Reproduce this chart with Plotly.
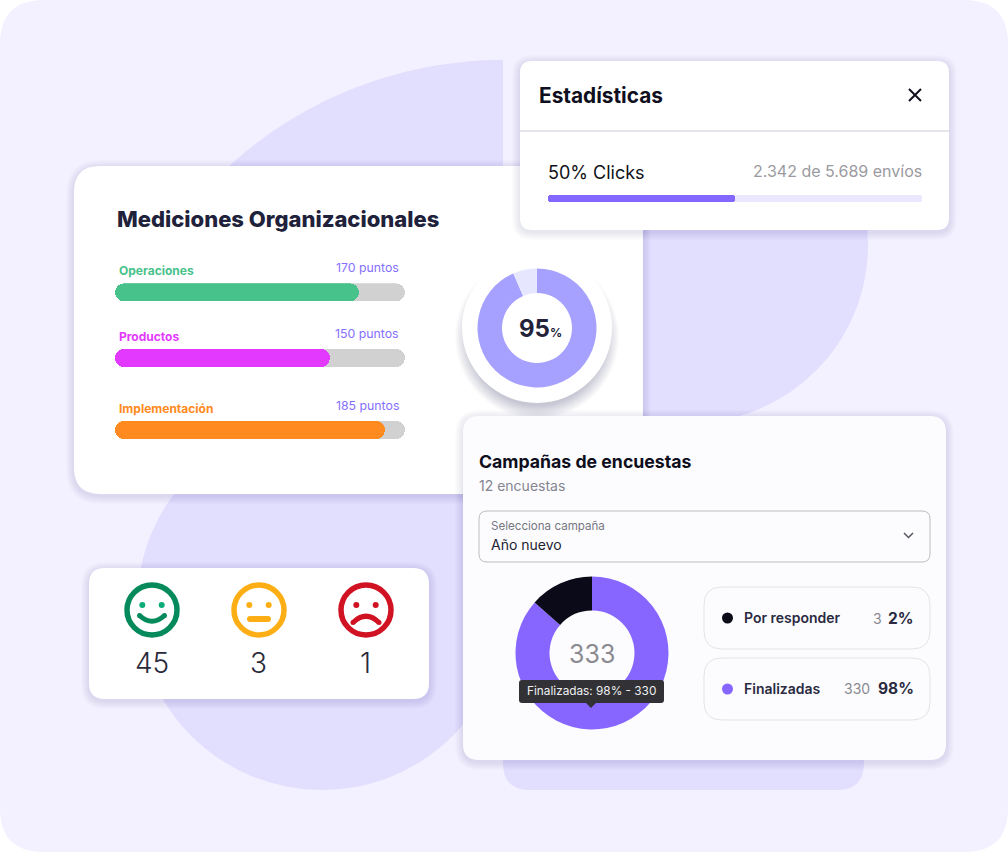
import math
import plotly.graph_objects as go

W, H = 1008, 852
FONT = "Inter"

# ---- data ----
bar_names = ["Operaciones", "Productos", "Implementación"]
bar_points = ["170 puntos", "150 puntos", "185 puntos"]
bar_fill = [84.1, 74.3, 93.1]
bar_track = [100, 100, 100]
bar_colors = ["#47c28a", "#e339ff", "#ff8a20"]

clicks_fill = [50]
clicks_track = [100]

gauge_labels = ["Logrado", "Restante"]
gauge_values = [93.5, 6.5]
gauge_colors = ["#a6a1ff", "#e6e6ff"]

survey_labels = ["Finalizadas", "Por responder"]
survey_values = [86.5, 13.5]
survey_colors = ["#8766ff", "#0a0a18"]
survey_counts = ["330", "3"]
survey_pcts = ["98%", "2%"]

face_counts = ["45", "3", "1"]
face_colors = ["#058a5c", "#fdae14", "#d01223"]
eye_colors = ["#0aaa7a", "#fdae14", "#d01223"]


# ---- pixel helpers (decorative layout only) ----
def fx(x): return x / W
def fy(y): return 1 - y / H
def pt(x, y): return f"{fx(x):.5f},{fy(y):.5f}"


def rr_path(x0, y0, x1, y1, r):
    return (f"M{pt(x0 + r, y0)} L{pt(x1 - r, y0)} Q{pt(x1, y0)} {pt(x1, y0 + r)} "
            f"L{pt(x1, y1 - r)} Q{pt(x1, y1)} {pt(x1 - r, y1)} L{pt(x0 + r, y1)} "
            f"Q{pt(x0, y1)} {pt(x0, y1 - r)} L{pt(x0, y0 + r)} Q{pt(x0, y0)} {pt(x0 + r, y0)} Z")


shapes = []


def add_rr(x0, y0, x1, y1, r, fill="rgba(0,0,0,0)", line=None, lw=1, layer="below"):
    shapes.append(dict(type="path", path=rr_path(x0, y0, x1, y1, r), xref="paper", yref="paper",
                       fillcolor=fill, line=dict(color=line or "rgba(0,0,0,0)", width=lw if line else 0),
                       layer=layer))


def add_circle(cx, cy, r, fill="rgba(0,0,0,0)", line=None, lw=0, layer="below"):
    shapes.append(dict(type="circle", xref="paper", yref="paper", x0=fx(cx - r), x1=fx(cx + r),
                       y0=fy(cy + r), y1=fy(cy - r), fillcolor=fill,
                       line=dict(color=line or "rgba(0,0,0,0)", width=lw), layer=layer))


def add_path(d, fill="rgba(0,0,0,0)", line=None, lw=0, layer="below"):
    shapes.append(dict(type="path", path=d, xref="paper", yref="paper", fillcolor=fill,
                       line=dict(color=line or "rgba(0,0,0,0)", width=lw), layer=layer))


def card(x0, y0, x1, y1, r, fill="#ffffff", spread=8, alpha=0.010, dy=2):
    for i in range(spread, 0, -1):
        add_rr(x0 - i, y0 - i + dy, x1 + i, y1 + i + dy, r + i, fill=f"rgba(30,25,70,{alpha})")
    add_rr(x0, y0, x1, y1, r, fill=fill)


LILAC = "#e2defe"
# background
add_rr(0, 0, W, H, 44, fill="#f3f0ff")
# top lobe: arc from (503,60) to (233,166) on a large circle
cx, cy, R = 503, 467, 407
arc = [(cx + R * math.cos(a), cy + R * math.sin(a))
       for a in [math.radians(270 - t * 42.2 / 40) for t in range(41)]]
add_path("M" + " L".join(pt(x, y) for x, y in arc) + f" L{pt(503, 300)} Z", fill=LILAC)
# right lobe
add_circle(690, 245, 178, fill=LILAC)
add_path(f"M{pt(600, 200)} L{pt(690, 200)} L{pt(690, 423)} L{pt(600, 423)} Z", fill=LILAC)
# bottom lobes
add_circle(322, 605, 185, fill=LILAC)
add_rr(503, 600, 864, 790, 27, fill=LILAC)

# cards
card(74, 166, 643, 494, 26)
card(89, 568, 429, 699, 16)
# white gauge disc with shadow
for i in range(14, 0, -1):
    add_circle(537, 337, 68 + i, fill="rgba(30,25,60,0.014)")
add_circle(537, 328, 75, fill="#ffffff")
card(520, 61, 949, 230, 12)
card(463, 416, 946, 760, 16, fill="#fcfcff")

# stats card details
add_path(f"M{pt(520, 131)} L{pt(949, 131)}", line="#e5e4ea", lw=2)
add_path(f"M{pt(909, 89)} L{pt(921, 101)} M{pt(921, 89)} L{pt(909, 101)}", line="#11111f", lw=2)

# dropdown + chevron
add_rr(479, 511, 930, 562, 8, line="#bcbcc2", lw=1)
add_path(f"M{pt(904, 533)} L{pt(908.5, 537.5)} L{pt(913, 533)}", line="#55555f", lw=1.5)

# legend pills
add_rr(704, 587, 930, 649, 18, line="#e4e4e8", lw=1)
add_rr(704, 658, 930, 720, 18, line="#e4e4e8", lw=1)
add_circle(727.5, 618, 5.5, fill=survey_colors[1])
add_circle(727.5, 689, 5.5, fill=survey_colors[0])

# faces
face_x = [152, 259, 366]
for i, (fxc, col, eye) in enumerate(zip(face_x, face_colors, eye_colors)):
    add_circle(fxc, 610, 25, line=col, lw=5.5)
    add_circle(fxc - 9.7, 605, 3, fill=eye)
    add_circle(fxc + 9.7, 605, 3, fill=eye)
add_path(f"M{pt(139.5, 615.5)} Q{pt(152, 627)} {pt(164.5, 615.5)}", line=face_colors[0], lw=5)
add_circle(139.5, 615.5, 2.5, fill=face_colors[0])
add_circle(164.5, 615.5, 2.5, fill=face_colors[0])
add_rr(247, 616, 271, 622, 3, fill=face_colors[1])
add_path(f"M{pt(353, 622.5)} Q{pt(366, 610)} {pt(379, 622.5)}", line=face_colors[2], lw=5)
add_circle(353, 622.5, 2.5, fill=face_colors[2])
add_circle(379, 622.5, 2.5, fill=face_colors[2])

# tooltip (above the donut)
add_rr(519, 680, 664, 703, 3, fill="#323236", layer="above")
add_path(f"M{pt(586, 703)} L{pt(591, 708)} L{pt(596, 703)} Z", fill="#323236", layer="above")

# ---- annotations ----
annotations = []


def text(x, y, s, size, color, anchor="left", weight=400):
    annotations.append(dict(x=fx(x), y=fy(y), xref="paper", yref="paper", text=s, showarrow=False,
                            xanchor=anchor, yanchor="middle", borderpad=0, borderwidth=0,
                            font=dict(family=FONT, size=size, color=color, weight=weight)))


text(117, 219, "Mediciones Organizacionales", 22, "#20213a", weight=800)
name_y = [270.3, 336.3, 408.3]
pts_y = [267.3, 333.3, 405.3]
for n, p, c, ny, py in zip(bar_names, bar_points, bar_colors, name_y, pts_y):
    text(119, ny, n, 12, c, weight=700)
    text(398.5, py, p, 12.3, "#8570ff", anchor="right")

text(539, 96, "Estadísticas", 20.8, "#0f0f20", weight=700)
text(548, 172, "50% Clicks", 18, "#111118", weight=400)
text(922, 171, "2.342 de 5.689 envíos", 16, "#9a9aa0", anchor="right")

text(540, 328, "95<span style='font-size:12px'>%</span>", 24, "#22233a", anchor="center", weight=700)

text(479, 461, "Campañas de encuestas", 17.7, "#0e0e1c", weight=700)
text(479, 485.5, "12 encuestas", 14, "#85858f")
text(491, 526, "Selecciona campaña", 11.6, "#77777f")
text(491, 544, "Año nuevo", 14, "#222230")
text(592, 654, "333", 25, "#8a8a90", anchor="center")
text(591.5, 691, "Finalizadas: 98% - 330", 11.8, "#f0f0f2", anchor="center")

text(743.5, 617.5, survey_labels[1], 14, "#2a2a40", weight=600)
text(882, 618, survey_counts[1], 14, "#8a8a92", anchor="right")
text(913.5, 618, survey_pcts[1], 15.5, "#2a2a40", anchor="right", weight=700)
text(743.5, 688.5, survey_labels[0], 14, "#2a2a40", weight=600)
text(870, 688.5, survey_counts[0], 14, "#8a8a92", anchor="right")
text(913.5, 688.5, survey_pcts[0], 15.5, "#2a2a40", anchor="right", weight=700)

for fxc, c in zip(face_x, face_counts):
    text(fxc - 0.5, 663, c, 28, "#2a2a3a", anchor="center", weight=300)

# ---- figure ----
fig = go.Figure()
y_domains = [(283.3, 301.7), (349, 367.3), (421, 439.3)]
axis_ids = ["y", "y2", "y3"]
for i, (ax, name) in enumerate(zip(axis_ids, bar_names)):
    fig.add_trace(go.Bar(x=[bar_track[i]], y=[name], base=[0], orientation="h", width=1, yaxis=ax, xaxis="x",
                         marker=dict(color="#d1d1d1", cornerradius=9, line=dict(width=0)),
                         hoverinfo="skip"))
    fig.add_trace(go.Bar(x=[bar_fill[i]], y=[name], base=[0], orientation="h", width=1, yaxis=ax, xaxis="x",
                         marker=dict(color=bar_colors[i], cornerradius=9, line=dict(width=0))))
fig.add_trace(go.Bar(x=clicks_track, y=["Clicks"], base=[0], orientation="h", width=1, yaxis="y4", xaxis="x2",
                     marker=dict(color="#ebe7fe", cornerradius=3.5, line=dict(width=0)), hoverinfo="skip"))
fig.add_trace(go.Bar(x=clicks_fill, y=["Clicks"], base=[0], orientation="h", width=1, yaxis="y4", xaxis="x2",
                     marker=dict(color="#8367ff", cornerradius=3.5, line=dict(width=0))))

fig.add_trace(go.Pie(labels=gauge_labels, values=gauge_values, sort=False, direction="clockwise",
                     rotation=0, hole=35 / 59.5, textinfo="none", marker=dict(colors=gauge_colors, line=dict(width=0)),
                     domain=dict(x=[fx(477.5), fx(596.5)], y=[fy(387.5), fy(268.5)])))
fig.add_trace(go.Pie(labels=survey_labels, values=survey_values, sort=False, direction="clockwise",
                     rotation=0, hole=42.5 / 76.5, textinfo="none", marker=dict(colors=survey_colors, line=dict(width=0)),
                     domain=dict(x=[fx(515.5), fx(668.5)], y=[fy(729.5), fy(576.5)])))

hidden = dict(visible=False, fixedrange=True)
layout_axes = dict(
    xaxis=dict(domain=[fx(115), fx(405)], range=[0, 100], anchor="y", **hidden),
    xaxis2=dict(domain=[fx(548), fx(922)], range=[0, 100], anchor="y4", **hidden),
)
for i, (ax, dom) in enumerate(zip(["yaxis", "yaxis2", "yaxis3"], y_domains)):
    layout_axes[ax] = dict(domain=[fy(dom[1]), fy(dom[0])], range=[-0.5, 0.5], type="category",
                           anchor="x", **hidden)
layout_axes["yaxis4"] = dict(domain=[fy(202), fy(195)], range=[-0.5, 0.5], type="category", anchor="x2", **hidden)

fig.update_layout(width=W, height=H, autosize=False, margin=dict(l=0, r=0, t=0, b=0, pad=0),
                  paper_bgcolor="#ffffff", plot_bgcolor="rgba(0,0,0,0)", showlegend=False,
                  barmode="overlay", bargap=0, shapes=shapes, annotations=annotations,
                  font=dict(family=FONT), **layout_axes)

fig.write_html("out.html", config=dict(displayModeBar=False),
               post_script="document.body.style.margin='0';document.documentElement.style.overflow='hidden';")
